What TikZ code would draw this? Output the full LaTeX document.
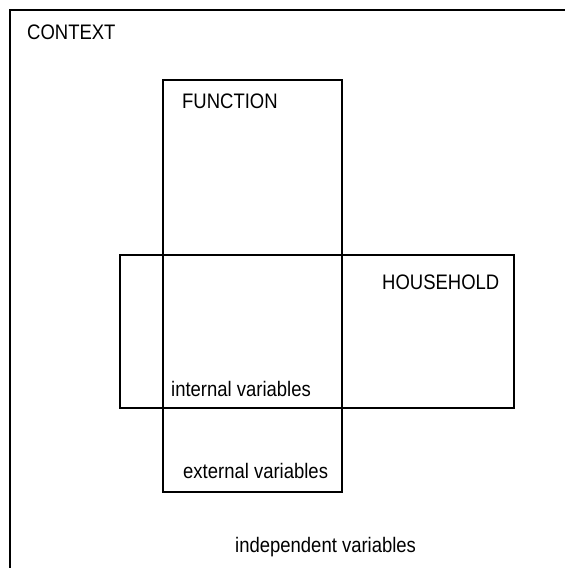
\documentclass[tikz,border=0pt]{standalone}
\usepackage{fontspec}
\setmainfont{Liberation Sans}[FakeStretch=0.88]
\begin{document}
\begin{tikzpicture}[x=1pt,y=-1pt,
  frame/.style={draw=black,line width=1.6pt},
  outerframe/.style={draw=black,line width=2.2pt},
  lbl/.style={anchor=base west,inner sep=0pt,font=\fontsize{21}{24}\selectfont}]
  \useasboundingbox (0,0) rectangle (565,568);
  \clip (0,0) rectangle (565,568);
  % context frame, running off the page to the right and below
  \draw[outerframe] (10,10) rectangle (600,600);
  % function and household boxes crossing each other
  \draw[frame] (163,80) rectangle (342,492);
  \draw[frame] (120,255) rectangle (514,408);
  % labels
  \node[lbl] (context) at (27,39) {CONTEXT};
  \node[lbl] (function) at (182,108) {FUNCTION};
  \node[lbl] (household) at (382,289) {HOUSEHOLD};
  \node[lbl] (internal) at (171,396) {internal variables};
  \node[lbl] (external) at (183,478) {external variables};
  \node[lbl] (independent) at (235,552) {independent variables};
\end{tikzpicture}
\end{document}
